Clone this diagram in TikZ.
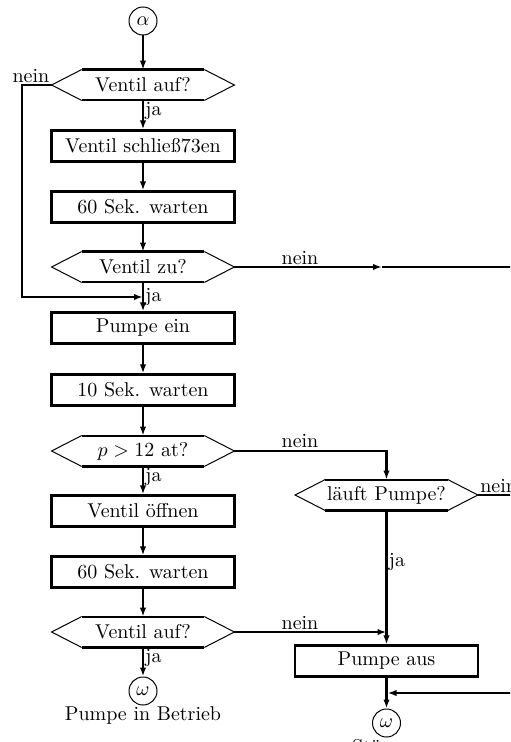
\documentclass[tikz,border=0pt]{standalone}
\usepackage{fontspec}
\usetikzlibrary{arrows.meta,calc}
\tikzset{
 x=0.5pt, y=-0.5pt,
 flow/.style={line width=1.1pt, -{Latex[length=4.5pt,width=3.2pt]}},
 plain/.style={line width=1.1pt},
 procbox/.style={draw, line width=1.1pt, minimum width=91.5pt, minimum height=15.5pt, inner sep=0pt},
 hexcore/.style={minimum width=61pt, minimum height=15pt, inner sep=0pt},
 term/.style={draw, circle, line width=0.5pt, minimum size=14pt, inner sep=0pt},
 lbl/.style={inner sep=1pt},
}
\newcommand\hexnode[4]{%
 \node[hexcore] (#1) at (#2,#3) {#4};
 \coordinate (#1-l) at ($(#1.west)+(-15pt,0pt)$);
 \coordinate (#1-r) at ($(#1.east)+(15pt,0pt)$);
 \draw[line width=1.1pt] (#1.north west)--(#1.north east) (#1.south west)--(#1.south east);
 \draw[line width=0.5pt] (#1.north west)--(#1-l)--(#1.south west) (#1.north east)--(#1-r)--(#1.south east);
}
\begin{document}
\begin{tikzpicture}
\useasboundingbox (0,0) rectangle (510,742);
\clip (0,0) rectangle (510,742);
% left column
\node[term] (alpha) at (143,21) {$\alpha$};
\hexnode{h1}{143}{85}{Ventil auf?}
\node[procbox] (b1) at (143,146) {Ventil schließ73en};
\node[procbox] (b2) at (143,207) {60 Sek. warten};
\hexnode{h2}{143}{267}{Ventil zu?}
\node[procbox] (b3) at (143,328) {Pumpe ein};
\node[procbox] (b4) at (143,390) {10 Sek. warten};
\hexnode{h3}{143}{451}{$p>12$ at?}
\node[procbox] (b5) at (143,511) {Ventil öffnen};
\node[procbox] (b6) at (143,572) {60 Sek. warten};
\hexnode{h4}{143}{632}{Ventil auf?}
\node[term] (om1) at (143,691) {$\omega$};
\node[anchor=north, inner sep=0pt] (t1) at (143,706) {Pumpe in Betrieb};
% right column
\hexnode{lp}{386.5}{495}{läuft Pumpe?}
\node[procbox] (aus) at (386.5,661) {Pumpe aus};
\node[term] (om2) at (386.5,723) {$\omega$};
\node[anchor=north, inner sep=0pt] (t2) at (386.5,739) {Störung};
% coordinates
\coordinate (lc2) at (22,297);
\coordinate (m1) at (143,297);
\coordinate (r1) at (382,267);
\coordinate (r1e) at (530,267);
\coordinate (lpe) at (530,495);
\coordinate (j1) at (386.5,632);
\coordinate (in1) at (530,693);
\coordinate (j2) at (387.5,693);
% connectors
\draw[flow] (alpha) -- (h1);
\draw[flow] (h1) -- (b1);
\draw[flow] (b1) -- (b2);
\draw[flow] (b2) -- (h2);
\draw[flow] (h2) -- (b3);
\draw[flow] (h1-l) -| (lc2) -- (m1);
\draw[flow] (h2-r) -- (r1);
\draw[plain] (r1) -- (r1e);
\draw[flow] (b3) -- (b4);
\draw[flow] (b4) -- (h3);
\draw[flow] (h3) -- (b5);
\draw[flow] (b5) -- (b6);
\draw[flow] (b6) -- (h4);
\draw[flow] (h4) -- (om1);
\draw[flow] (h3-r) -| (lp.north);
\draw[plain] (lp-r) -- (lpe);
\draw[flow] (lp) -- (aus);
\draw[flow] (h4-r) -- (j1);
\draw[flow] (aus) -- (om2);
\draw[flow] (in1) -- (j2);
% labels
\node[lbl, anchor=south east] at (h1-l) {nein};
\node[lbl, anchor=north west] at (h1.south) {ja};
\node[lbl, anchor=west] at (143,297) {ja};
\node[lbl, anchor=south] at (300,267) {nein};
\node[lbl, anchor=south] at (300,450) {nein};
\node[lbl, anchor=north west] at (h3.south) {ja};
\node[lbl, anchor=south west] at (lp-r) {nein};
\node[lbl, anchor=west] at (386.5,562) {ja};
\node[lbl, anchor=south] at (300,632) {nein};
\node[lbl, anchor=north west] at (h4.south) {ja};
\end{tikzpicture}
\end{document}
